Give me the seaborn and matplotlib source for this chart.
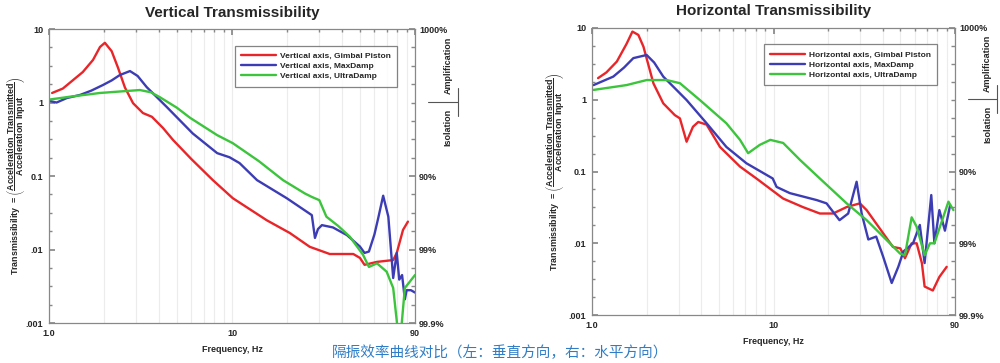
import numpy as np
import pandas as pd
import matplotlib
matplotlib.use('Agg')
import matplotlib.pyplot as plt
import matplotlib.ticker as mticker
from matplotlib.lines import Line2D
import seaborn as sns

# data (frequency in Hz, transmissibility)
v_gimbal_f = [1.04, 1.19, 1.53, 1.74, 1.9, 2.02, 2.2, 2.38, 2.6, 2.88, 3.26, 3.65, 4.2, 4.76, 6.0, 7.86,
              10.1, 15.5, 20.7, 26.6, 34.2, 46, 50, 53, 62, 76, 79.5, 86, 91.5]
v_gimbal_t = [1.35, 1.55, 2.6, 3.8, 5.7, 6.5, 5.0, 3.0, 1.6, 0.98, 0.72, 0.64, 0.45, 0.31, 0.17, 0.088,
              0.05, 0.025, 0.0168, 0.0109, 0.0087, 0.0087, 0.0077, 0.0062, 0.0068, 0.0072, 0.009, 0.0185, 0.024]
v_maxdamp_f = [1.01, 1.1, 1.25, 1.48, 1.7, 1.97, 2.2, 2.44, 2.77, 3.05, 3.42, 4.4, 6.1, 8.3, 9.7, 11.0, 13.7,
               19.9, 27.3, 28.4, 29.5, 31, 35.6, 42.5, 50, 53, 56, 60, 63, 67, 71.5, 76, 79.5, 82, 85, 88,
               90, 95, 100]
v_maxdamp_t = [1.05, 1.0, 1.15, 1.27, 1.45, 1.73, 2.0, 2.37, 2.68, 2.3, 1.62, 0.87, 0.38, 0.205, 0.18, 0.15,
               0.088, 0.05, 0.0294, 0.0144, 0.019, 0.0215, 0.02, 0.0157, 0.011, 0.009, 0.0094, 0.016, 0.027,
               0.054, 0.028, 0.0041, 0.009, 0.0039, 0.0045, 0.0021, 0.0028, 0.0028, 0.0026]
v_ultra_f = [1.01, 1.3, 1.9, 2.5, 3.14, 3.6, 4.04, 5.0, 5.9, 8.3, 10.1, 14, 19.0, 25, 27.3, 30, 32.8, 38, 44,
             52, 56, 62, 70, 76, 80.5, 84, 88, 100]
v_ultra_t = [1.1, 1.2, 1.35, 1.42, 1.48, 1.38, 1.18, 0.85, 0.62, 0.36, 0.28, 0.16, 0.088, 0.058, 0.052, 0.047,
             0.028, 0.021, 0.015, 0.0085, 0.0058, 0.0065, 0.005, 0.003, 0.0008, 0.0008, 0.003, 0.0045]

h_gimbal_f = [1.08, 1.2, 1.37, 1.55, 1.67, 1.8, 1.92, 2.18, 2.47, 2.86, 3.05, 3.32, 3.6, 3.85, 4.28, 5.07,
              6.54, 8.05, 11.3, 14.5, 18.0, 21.3, 25.3, 29.9, 32.6, 40.2, 45.5, 50, 53, 57.7, 61.5, 65.7,
              68, 75.5, 82, 90]
h_gimbal_t = [2.0, 2.4, 3.4, 6.0, 8.9, 8.0, 5.5, 1.69, 0.89, 0.61, 0.55, 0.26, 0.42, 0.49, 0.45, 0.22,
              0.117, 0.08, 0.042, 0.032, 0.026, 0.026, 0.032, 0.036, 0.029, 0.0138, 0.0089, 0.0085, 0.0062,
              0.0100, 0.01, 0.0053, 0.0025, 0.0022, 0.0034, 0.0047]
h_maxdamp_f = [1.02, 1.31, 1.5, 1.69, 2.0, 2.2, 2.47, 3.32, 4.28, 5.5, 7.1, 9.9, 10.4, 12.3, 17.3, 19.6,
               23.1, 25.8, 28.7, 30.6, 33.3, 36.8, 40.2, 44.8, 48.7, 52, 58.7, 64, 68, 74, 77, 82, 88, 94]
h_maxdamp_t = [1.6, 2.1, 2.8, 3.8, 4.2, 3.3, 2.1, 0.99, 0.47, 0.22, 0.13, 0.08, 0.061, 0.05, 0.04, 0.036,
               0.021, 0.026, 0.072, 0.026, 0.0113, 0.0124, 0.0065, 0.0028, 0.0047, 0.0077, 0.0100, 0.018,
               0.0053, 0.047, 0.0100, 0.029, 0.015, 0.034]
h_ultra_f = [1.02, 1.55, 2.0, 2.58, 3.05, 3.93, 5.5, 6.54, 7.25, 8.4, 9.6, 11.3, 14.0, 18.0, 25.3, 32.6,
             40.2, 49.8, 53, 57.7, 61.5, 68, 72.8, 77, 92, 98]
h_ultra_t = [1.37, 1.6, 1.88, 1.88, 1.7, 0.99, 0.47, 0.276, 0.18, 0.235, 0.276, 0.25, 0.145, 0.08, 0.036,
             0.021, 0.0124, 0.0072, 0.0068, 0.023, 0.017, 0.0068, 0.01, 0.01, 0.038, 0.029]

series_names = ['Gimbal Piston', 'MaxDamp', 'UltraDamp']
colors = ['#e8262a', '#3c3cb4', '#3cc43c']
y_ticks = [10, 1, 0.1, 0.01, 0.001]
y_labels = ['10', '1', '0.1', '.01', '.001']
pct_ticks = [10, 0.1, 0.01, 0.001]
pct_labels = ['1000%', '90%', '99%', '99.9%']
x_ticks = [1, 10, 100]
x_labels = ['1.0', '10', '90']

sns.set_theme(style='white')
plt.rcParams['font.family'] = ['Liberation Sans', 'DejaVu Sans']
plt.rcParams['font.weight'] = 'bold'
plt.rcParams['mathtext.fontset'] = 'custom'
plt.rcParams['mathtext.rm'] = 'Liberation Sans:bold'
plt.rcParams['mathtext.bf'] = 'Liberation Sans:bold'

fig = plt.figure(figsize=(10, 3.63), dpi=100)
ax_v = fig.add_axes([0.049, 0.110, 0.366, 0.810])
ax_h = fig.add_axes([0.592, 0.132, 0.363, 0.791])

panels = [
    (ax_v, 'Vertical Transmissibility', 'Vertical axis', -0.058,
     [(v_gimbal_f, v_gimbal_t), (v_maxdamp_f, v_maxdamp_t), (v_ultra_f, v_ultra_t)]),
    (ax_h, 'Horizontal Transmissibility', 'Horizontal axis', -0.068,
     [(h_gimbal_f, h_gimbal_t), (h_maxdamp_f, h_maxdamp_t), (h_ultra_f, h_ultra_t)]),
]

ylab = (r'$\mathbf{Transmissibility\ =}\left(\dfrac{\mathbf{Acceleration\ Transmitted}}'
        r'{\mathbf{Acceleration\ Input}}\right)$')

for ax, title, prefix, lab_x, data in panels:
    ax.set_xscale('log')
    ax.set_yscale('log')
    for (f, t), name, c in zip(data, series_names, colors):
        df = pd.DataFrame({'f': f, 't': t})
        sns.lineplot(data=df, x='f', y='t', ax=ax, color=c, lw=1.7,
                     label=f'{prefix}, {name}', estimator=None)
    ax.set_xlim(1, 100)
    ax.set_ylim(0.001, 10)
    ax.set_xticks(x_ticks)
    ax.set_xticklabels(x_labels)
    ax.xaxis.set_minor_locator(mticker.LogLocator(base=10, subs=np.arange(2, 10)))
    ax.xaxis.set_minor_formatter(mticker.NullFormatter())
    ax.set_yticks(y_ticks)
    ax.set_yticklabels(y_labels)
    ax.yaxis.set_minor_locator(mticker.FixedLocator(10.0 ** np.arange(-3, 1.01, 0.25)))
    ax.yaxis.set_minor_formatter(mticker.NullFormatter())
    ax.tick_params(which='both', direction='in', labelsize=6.5, color='#888888',
                   top=True, right=False, pad=4)
    ax.tick_params(which='major', length=4)
    ax.tick_params(which='minor', length=2.5)
    ax.grid(True, which='both', axis='x', color='#ececec', lw=0.8)
    for s in ax.spines.values():
        s.set_color('#888888')
        s.set_linewidth(0.9)
    ax.set_title(title, fontsize=11, fontweight='bold', pad=9)
    ax.set_xlabel('Frequency, Hz', fontsize=6.5, fontweight='bold', labelpad=5)
    ax.set_ylabel(ylab, fontsize=6.4)
    ax.yaxis.set_label_coords(lab_x, 0.50)

    leg = ax.legend(loc='upper right', bbox_to_anchor=(0.963, 0.958), fontsize=6,
                    frameon=True, fancybox=False, handlelength=4.2, borderpad=0.8,
                    labelspacing=0.25, handletextpad=0.4)
    leg.get_frame().set_edgecolor('#666666')
    leg.get_frame().set_linewidth(0.9)

    # right-hand percentage axis
    ax2 = ax.twinx()
    ax2.set_yscale('log')
    ax2.set_ylim(0.001, 10)
    ax2.set_yticks(pct_ticks)
    ax2.set_yticklabels(pct_labels)
    ax2.yaxis.set_minor_locator(mticker.FixedLocator(10.0 ** np.arange(-3, 1.01, 0.25)))
    ax2.yaxis.set_minor_formatter(mticker.NullFormatter())
    ax2.tick_params(which='both', direction='in', labelsize=6.5, color='#888888', pad=3)
    ax2.tick_params(which='major', length=4)
    ax2.tick_params(which='minor', length=3)
    for s in ax2.spines.values():
        s.set_visible(False)
    ax2.grid(False)

    # Amplification / Isolation marker
    ax2.text(1.09, 0.875, 'Amplification', transform=ax2.transAxes, rotation=90,
             fontsize=6.5, fontweight='bold', ha='center', va='center')
    ax2.text(1.09, 0.665, 'Isolation', transform=ax2.transAxes, rotation=90,
             fontsize=6.5, fontweight='bold', ha='center', va='center')
    ax2.add_line(Line2D([1.036, 1.117], [0.752, 0.752], transform=ax2.transAxes,
                        color='#555555', lw=0.8, clip_on=False))
    ax2.add_line(Line2D([1.117, 1.117], [0.705, 0.80], transform=ax2.transAxes,
                        color='#555555', lw=0.8, clip_on=False))

fig.text(0.5, 0.028, '隔振效率曲线对比（左：垂直方向，右：水平方向）', ha='center', va='center',
         fontsize=10.5, color='#2f7dc6', fontweight='normal',
         family=['Noto Sans CJK SC', 'DejaVu Sans'])

fig.savefig('out.png', dpi=100, facecolor='white')
